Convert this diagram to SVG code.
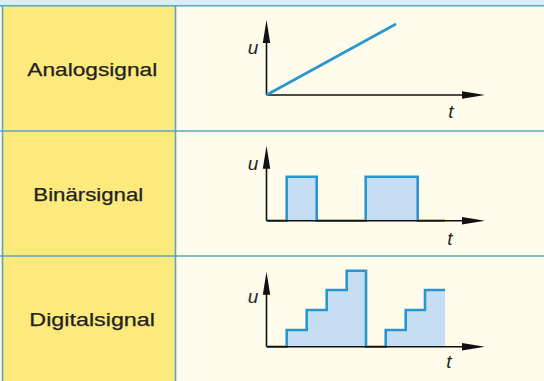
<svg xmlns="http://www.w3.org/2000/svg" xmlns:xlink="http://www.w3.org/1999/xlink" width="544" height="381" viewBox="0 0 544 381">
<style>
.lbl{font-family:"Liberation Sans",Arial,sans-serif;font-size:19px;fill:#222;stroke:#222;stroke-width:0.25}
.var{font-family:"Liberation Sans",Arial,sans-serif;font-size:19px;font-style:italic;fill:#262626}
.axis{stroke:#111;stroke-width:1.6;fill:none}
.sig{stroke:#2896cf;stroke-width:2.6;fill:none;stroke-linejoin:miter;stroke-linecap:butt}
.fill{fill:#c6def4;stroke:none}
.grid{stroke:#5aa6c0;stroke-width:1.6;fill:none}
</style>
<defs>
<path id="ah" d="M0,0 L-23,-3.7 L-23,3.7 Z" fill="#111"/>
</defs>
<g id="background">
<rect x="0" y="0" width="544" height="381" fill="#fffcec"/>
<rect x="0" y="0" width="544" height="5.5" fill="#d8eff9"/>
<rect x="3" y="6" width="172" height="375" fill="#fdea7d"/>
<line class="grid" x1="0" y1="5.8" x2="544" y2="5.8"/>
<line class="grid" x1="0" y1="131" x2="544" y2="131"/>
<line class="grid" x1="0" y1="256" x2="544" y2="256"/>
<line class="grid" x1="2.5" y1="5.8" x2="2.5" y2="381"/>
<line class="grid" x1="175.5" y1="5.8" x2="175.5" y2="381"/>
</g>
<g id="analog">
<text class="lbl" x="27.3" y="75.7" textLength="130" lengthAdjust="spacingAndGlyphs">Analogsignal</text>
<line class="axis" x1="266.5" y1="40" x2="266.5" y2="95"/>
<line class="axis" x1="266.5" y1="95" x2="464" y2="95"/>
<use xlink:href="#ah" transform="translate(266.5,20) rotate(-90)"/>
<use xlink:href="#ah" transform="translate(485,95)"/>
<line class="sig" x1="266.5" y1="95" x2="396" y2="24"/>
<text class="var" x="253" y="54" text-anchor="middle">u</text>
<text class="var" x="451" y="118" text-anchor="middle">t</text>
</g>
<g id="binary">
<text class="lbl" x="33.3" y="200.7" textLength="110" lengthAdjust="spacingAndGlyphs">Binärsignal</text>
<rect class="fill" x="286.7" y="176.7" width="30" height="44"/>
<rect class="fill" x="365.7" y="176.7" width="52" height="44"/>
<path class="sig" d="M267,220.7 H286.7 V176.7 H316.7 V220.7 H365.7 V176.7 H417.7 V220.7 H445"/>
<line class="axis" x1="266.5" y1="165" x2="266.5" y2="220.7"/>
<line class="axis" x1="266.5" y1="220.7" x2="464" y2="220.7"/>
<use xlink:href="#ah" transform="translate(266.5,145.7) rotate(-90)"/>
<use xlink:href="#ah" transform="translate(485,220.7)"/>
<text class="var" x="253" y="170" text-anchor="middle">u</text>
<text class="var" x="450" y="244.5" text-anchor="middle">t</text>
</g>
<g id="digital">
<text class="lbl" x="29.3" y="325.7" textLength="125.7" lengthAdjust="spacingAndGlyphs">Digitalsignal</text>
<path class="fill" d="M286.7,346.7 V330 H306.7 V310 H326.7 V290 H346.7 V270.7 H366 V346.7 Z"/>
<path class="fill" d="M385.7,346.7 V330 H405.7 V310 H425 V290 H445 V346.7 Z"/>
<path class="sig" d="M267,346.7 H286.7 V330 H306.7 V310 H326.7 V290 H346.7 V270.7 H366 V346.7 H385.7 V330 H405.7 V310 H425 V290 H445"/>
<line class="axis" x1="266.5" y1="290" x2="266.5" y2="346.7"/>
<line class="axis" x1="266.5" y1="346.7" x2="464" y2="346.7"/>
<use xlink:href="#ah" transform="translate(266.5,271.7) rotate(-90)"/>
<use xlink:href="#ah" transform="translate(485,346.7)"/>
<text class="var" x="253" y="303" text-anchor="middle">u</text>
<text class="var" x="449" y="367.5" text-anchor="middle">t</text>
</g>
</svg>
